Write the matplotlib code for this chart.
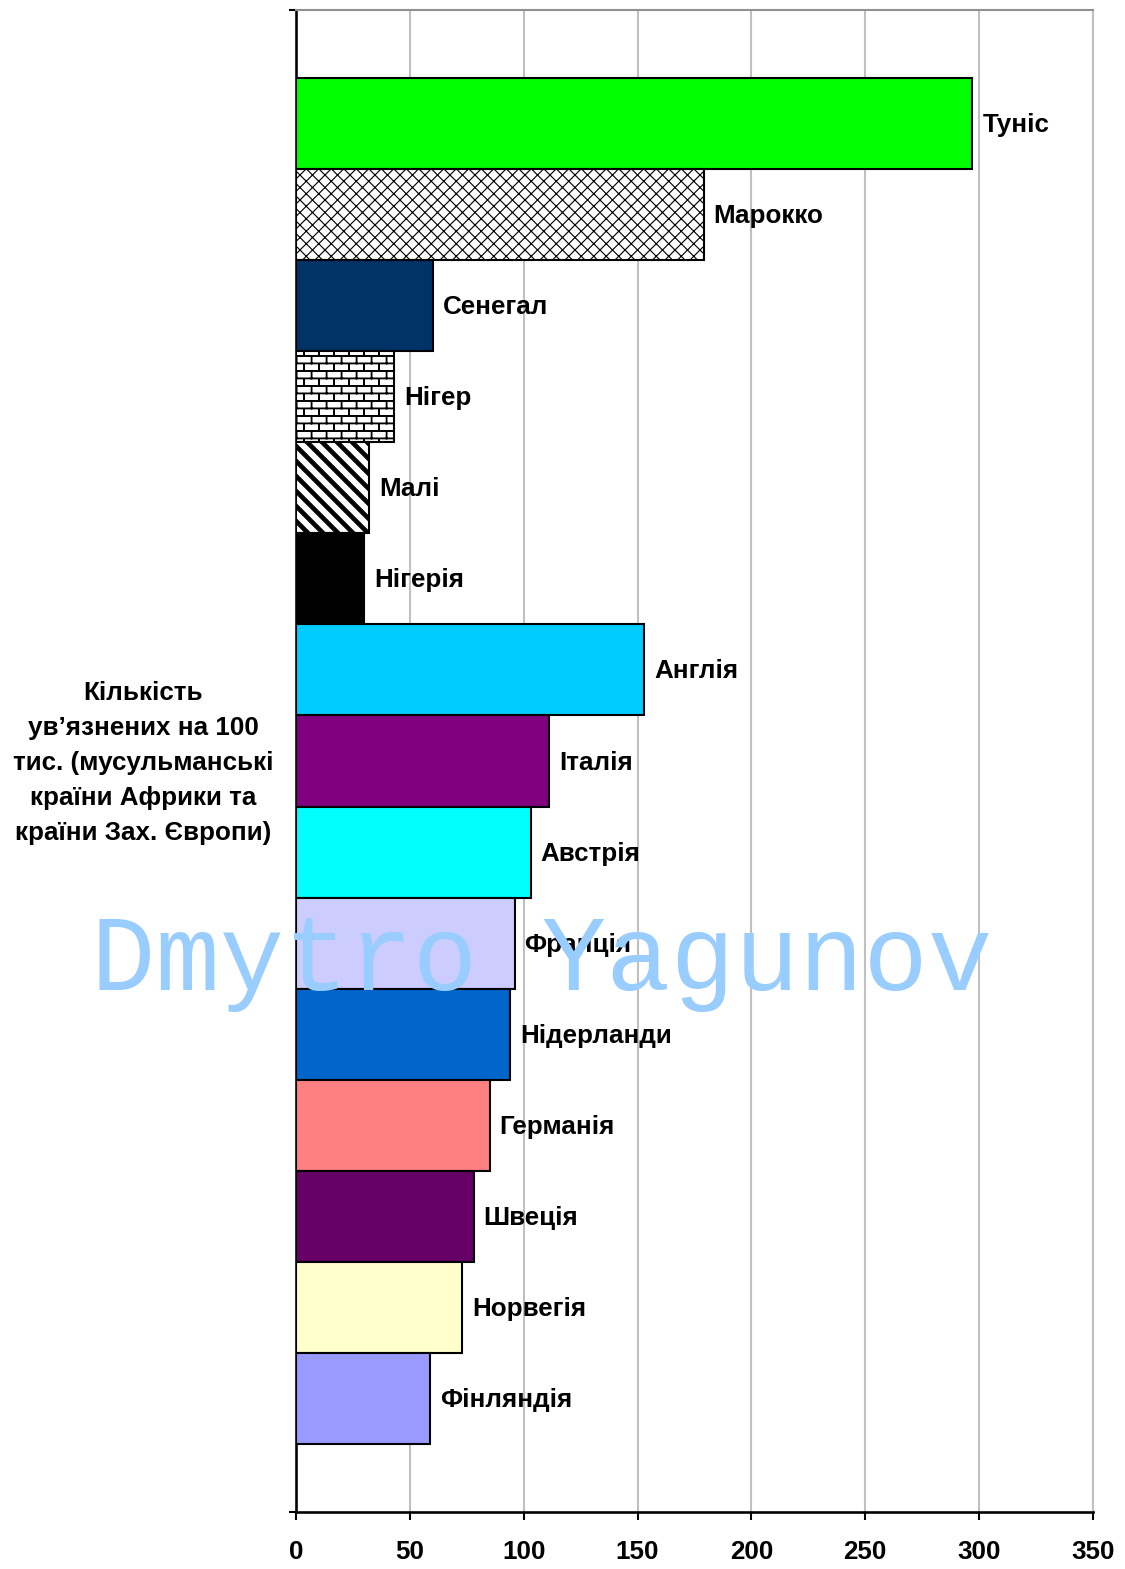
import matplotlib
matplotlib.use('Agg')
import matplotlib.pyplot as plt
import numpy as np
from matplotlib import hatch as mhatch
from matplotlib.path import Path
import warnings
warnings.filterwarnings('ignore')

# ---------------- data ----------------
countries = ['Туніс', 'Марокко', 'Сенегал', 'Нігер', 'Малі', 'Нігерія',
             'Англія', 'Італія', 'Австрія', 'Франція', 'Нідерланди',
             'Германія', 'Швеція', 'Норвегія', 'Фінляндія']
values = [297, 179, 60, 43, 32, 30, 153, 111, 103, 96, 94, 85, 78, 73, 59]
colors = ['#00FF00', '#FFFFFF', '#003366', '#FFFFFF', '#FFFFFF', '#000000',
          '#00CCFF', '#800080', '#00FFFF', '#CCCCFF', '#0066CC',
          '#FF8080', '#660066', '#FFFFCC', '#9999FF']
hatches = ['', 'xx', '', 'b', 's', '', '', '', '', '', '', '', '', '', '']
category_label = 'Кількість\nув’язнених на 100\nтис. (мусульманські\nкраїни Африки та\nкраїни Зах. Європи)'
xticks = [0, 50, 100, 150, 200, 250, 300, 350]
watermark = 'Dmytro Yagunov'


# ---------------- custom hatch patterns ----------------
class BrickHatch(mhatch.HatchPatternBase):
    """Brick-wall pattern (rows of offset bricks)."""
    offsets = (0.0, 0.009)

    def __init__(self, hatch, density):
        self.on = 'b' in hatch
        self.rows, self.cols = 10, 5
        if self.on:
            per = self.rows * 2 + (self.rows + 2) * (self.cols + 2) * 2
            self.num_vertices = per * len(self.offsets)
        else:
            self.num_vertices = 0

    def set_vertices_and_codes(self, vertices, codes):
        idx = 0
        r, c = self.rows, self.cols
        for off in self.offsets:
            for i in range(r):
                y = (i + 0.5) / r + off
                vertices[idx:idx + 2] = [(-0.1, y), (1.1, y)]
                codes[idx:idx + 2] = [Path.MOVETO, Path.LINETO]
                idx += 2
            for i in range(-1, r + 1):
                y0 = (i + 0.5) / r
                y1 = (i + 1.5) / r
                for j in range(-1, c + 1):
                    x = (j + 0.5 * (i % 2) + 0.25) / c + off
                    vertices[idx:idx + 2] = [(x, y0), (x, y1)]
                    codes[idx:idx + 2] = [Path.MOVETO, Path.LINETO]
                    idx += 2


class StripeHatch(mhatch.HatchPatternBase):
    """Wide black diagonal stripes."""
    def __init__(self, hatch, density):
        self.n = 5 if 's' in hatch else 0
        self.h = 0.033
        self.ks = list(range(-2, 2 * self.n + 3)) if self.n else []
        self.num_vertices = 5 * len(self.ks)

    def set_vertices_and_codes(self, vertices, codes):
        idx = 0
        h = self.h
        for k in self.ks:
            c = k / self.n
            vertices[idx:idx + 5] = [(-1, c - h + 1), (2, c - h - 2), (2, c + h - 2),
                                     (-1, c + h + 1), (-1, c - h + 1)]
            codes[idx:idx + 5] = [Path.MOVETO, Path.LINETO, Path.LINETO,
                                  Path.LINETO, Path.CLOSEPOLY]
            idx += 5


mhatch._hatch_types.append(BrickHatch)
mhatch._hatch_types.append(StripeHatch)
mhatch._validate_hatch_pattern = lambda h: None

plt.rcParams['hatch.linewidth'] = 1.1
plt.rcParams['font.family'] = ['Liberation Sans', 'DejaVu Sans']

DPI = 75
fig = plt.figure(figsize=(1125 / DPI, 1569 / DPI), dpi=DPI)
ax = fig.add_axes([296 / 1125, 1 - 1512 / 1569, (1093 - 296) / 1125, (1512 - 10) / 1569])

ypos = np.arange(len(countries))
bars = ax.barh(ypos, values, height=1.0, color=colors, edgecolor='black',
               linewidth=2, zorder=3)
for b, h in zip(bars, hatches):
    if h:
        b.set_hatch(h)

for y, v, name in zip(ypos, values, countries):
    ax.annotate(name, (v, y), xytext=(9.6, -1.5), textcoords='offset points',
                va='center', ha='left', fontsize=25, fontweight='bold', zorder=4)

ylo, yhi = -1.247, len(countries) - 1 + 1.247
ax.set_ylim(yhi, ylo)
ax.set_xlim(0, 350)
ax.set_yticks([ylo, yhi])
ax.set_yticklabels([])
ax.set_xticks(xticks)
ax.set_xticklabels([str(t) for t in xticks], fontsize=25, fontweight='bold')
ax.tick_params(axis='x', length=8, width=2, pad=19, direction='out')
ax.tick_params(axis='y', length=7, width=2, direction='out')
ax.grid(axis='x', color='#C0C0C0', linewidth=2, zorder=0)
ax.set_axisbelow(True)

for s in ['left', 'bottom']:
    ax.spines[s].set_linewidth(2.5)
    ax.spines[s].set_color('black')
ax.spines['top'].set_color('#909090')
ax.spines['top'].set_linewidth(2)
ax.spines['right'].set_color('#C0C0C0')
ax.spines['right'].set_linewidth(2)

fig.text(143 / 1125, 1 - 763 / 1569, category_label, ha='center', va='center',
         multialignment='center', fontsize=25, fontweight='bold', linespacing=1.57)

fig.text(542 / 1125, 1 - 990 / 1569, watermark, ha='center', va='baseline',
         fontsize=103, family='Liberation Mono', color='#99CCFF', zorder=10)

fig.savefig('out.png', dpi=DPI)
